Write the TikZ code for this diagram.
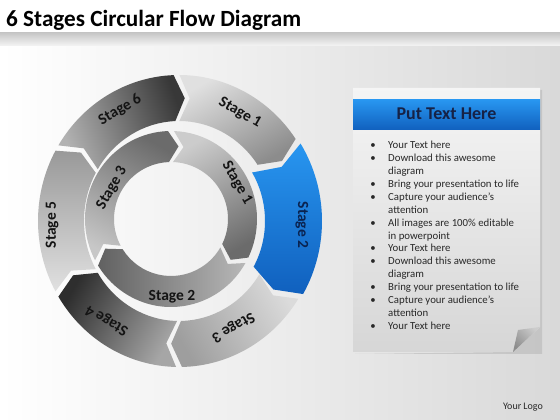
\documentclass[tikz,border=0pt]{standalone}
\usepackage{fontspec}
\setmainfont{Carlito}
\definecolor{bluelt}{RGB}{40,150,240}
\definecolor{bluedk}{RGB}{16,96,190}
\definecolor{navy}{RGB}{22,34,70}
\definecolor{bluetxt}{RGB}{10,35,80}
\definecolor{txt}{RGB}{40,40,40}
\tikzset{
  lbl/.style={font=\fontsize{15.5}{18}\selectfont\bfseries, text=black!92, inner sep=0pt},
  item/.style={font=\fontsize{10.8}{12}\selectfont, text=txt, inner sep=0pt, anchor=base west},
  bul/.style={font=\fontsize{10.8}{12}\selectfont, text=txt, inner sep=0pt, anchor=base},
}
\newcommand\ringseg[3]{%
  \pgfmathsetmacro\sA{#1-\gp}%
  \pgfmathsetmacro\eA{#2+\gp}%
  \pgfmathsetmacro\sD{\sA-\dd}%
  \pgfmathsetmacro\eD{\eA-\dd}%
  \shade[#3] ({\Rx*cos(\sA)},{\Ry*sin(\sA)})
    arc[start angle=\sA, end angle=\eA, x radius=\Rx, y radius=\Ry]
    -- ({\mx*cos(\eD)},{\my*sin(\eD)})
    -- ({\rx*cos(\eA)},{\ry*sin(\eA)})
    arc[start angle=\eA, end angle=\sA, x radius=\rx, y radius=\ry]
    -- ({\mx*cos(\sD)},{\my*sin(\sD)}) -- cycle;}
\begin{document}
\begin{tikzpicture}[x=1pt,y=1pt]
\useasboundingbox (0,0) rectangle (560,420);
% background
\shade[left color=white, right color=black!15] (0,0) rectangle (560,387);
\fill[white] (0,387) rectangle (560,420);
\shade[top color=black!22, bottom color=black!4] (0,374) rectangle (560,387);
\node[anchor=base west, inner sep=0pt, font=\fontsize{23.2}{27}\selectfont\bfseries] (title) at (6,393) {6 Stages Circular Flow Diagram};

% outer ring
\begin{scope}[shift={(179,199)}]
  \def\Rx{141}\def\Ry{146}\def\rx{95}\def\ry{100}\def\mx{118}\def\my{123}\def\dd{5}\def\gp{1.2}
  \ringseg{150}{91}{top color=black!78, bottom color=black!30, shading angle=-70}
  \ringseg{91}{33}{top color=black!12, bottom color=black!45, shading angle=30}
  \ringseg{-31}{-90}{top color=black!14, bottom color=black!38, shading angle=-60}
  \ringseg{-90}{-150}{top color=black!82, bottom color=black!35, shading angle=60}
  \ringseg{210}{150}{top color=black!12, bottom color=black!40, shading angle=-180}
  \def\Rx{143}\def\Ry{147}\def\rx{86}\def\ry{92}\def\mx{115}\def\my{120}
  \ringseg{33}{-31}{top color=bluelt, bottom color=bluedk, shading angle=0}
\end{scope}
% inner ring
\begin{scope}[shift={(171,201)}]
  \def\Rx{86}\def\Ry{88}\def\rx{57}\def\ry{57}\def\mx{72}\def\my{73}\def\dd{8}\def\gp{2}
  \ringseg{90}{-28}{top color=black!20, bottom color=black!58, shading angle=30}
  \ringseg{-28}{-150}{top color=black!62, bottom color=black!28, shading angle=90}
  \ringseg{210}{90}{top color=black!22, bottom color=black!58, shading angle=150}
\end{scope}

% labels
\node[lbl, rotate=30] (o6) at (120,310) {Stage 6};
\node[lbl, rotate=-30] (o1) at (240,307) {Stage 1};
\node[lbl, rotate=-90, text=bluetxt] (o2) at (302,195) {Stage 2};
\node[lbl, rotate=210] (o3) at (233,93) {Stage 3};
\node[lbl, rotate=150] (o4) at (107,100) {Stage 4};
\node[lbl, rotate=90] (o5) at (52,195) {Stage 5};
\node[lbl, rotate=-60] (i1) at (237,237) {Stage 1};
\node[lbl] (i2) at (172,123) {Stage 2};
\node[lbl, rotate=60] (i3) at (112,232) {Stage 3};

% text panel
\fill[black!30, opacity=0.5] (355,66) -- (542,66) -- (542,330) -- (540,330) -- (540,93) -- (513,68) -- cycle;
\shade[top color=black!4, bottom color=black!16] (353,332) -- (540,332) -- (540,93) -- (513,68) -- (353,68) -- cycle;
\shade[top color=black!20, bottom color=black!45, shading angle=-45] (540,93) -- (518,90) -- (513,68) -- cycle;
\shade[top color=bluelt, bottom color=bluedk] (353,290) rectangle (540,320);
\node[anchor=base, inner sep=0pt, font=\fontsize{18}{20}\selectfont\bfseries, text=navy] (hdr) at (446.5,300) {Put Text Here};
\foreach \b/\t [count=\i] in {1/Your Text here, 1/Download this awesome, 0/diagram,
  1/Bring your presentation to life, 1/Capture your audience’s, 0/attention,
  1/All images are 100\% editable, 0/in powerpoint, 1/Your Text here,
  1/Download this awesome, 0/diagram, 1/Bring your presentation to life,
  1/Capture your audience’s, 0/attention, 1/Your Text here}{
  \node[item] (li\i) at (388,{271-12.86*(\i-1)}) {\t};
  \ifnum\b=1 \node[bul] (bu\i) at (373,{271-12.86*(\i-1)}) {•};\fi
}
\node[anchor=base, inner sep=0pt, font=\fontsize{10}{12}\selectfont, text=txt] (logo) at (523,10) {Your Logo};
\end{tikzpicture}
\end{document}
